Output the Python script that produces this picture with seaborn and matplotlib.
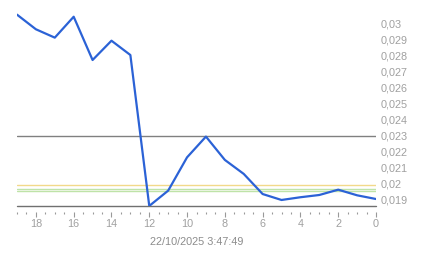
import matplotlib
matplotlib.use("Agg")
import matplotlib.pyplot as plt
import seaborn as sns
import pandas as pd
import numpy as np
from matplotlib.ticker import MultipleLocator, FuncFormatter

# data
x_idx = [19, 18, 17, 16, 15, 14, 13, 12, 11, 10, 9, 8, 7, 6, 5, 4, 3, 2, 1, 0]
values = [0.03052, 0.02961, 0.02909, 0.03039, 0.02770, 0.02890, 0.02801,
          0.01863, 0.01958, 0.02165, 0.02294, 0.02149, 0.02062, 0.01937,
          0.01900, 0.01917, 0.01931, 0.01964, 0.01929, 0.01906]
ref_gray = 0.023
ref_yellow = 0.01993
ref_green = [0.01968, 0.01956]
y_min = 0.018607
y_max = 0.031119
xlabel_text = "22/10/2025 3:47:49"

df = pd.DataFrame({"x": x_idx, "v": values})

sns.set_style("white")
plt.rcParams['font.family'] = ['Liberation Sans', 'DejaVu Sans']

W, H = 443, 258
fig = plt.figure(figsize=(W / 100, H / 100), dpi=100)
left, right, top, bottom = 17, 376, 5, 206.3
ax = fig.add_axes([left / W, 1 - bottom / H, (right - left) / W, (bottom - top) / H])

ax.axhline(ref_gray, color="#808080", lw=1.0, zorder=1)
ax.axhline(ref_yellow, color="#f2d98a", lw=1.0, zorder=1)
for g in ref_green:
    ax.axhline(g, color="#bfe3a8", lw=1.0, zorder=1)
ax.axhline(y_min, color="#707070", lw=1.0, zorder=1, clip_on=False)

sns.lineplot(data=df, x="x", y="v", ax=ax, color="#2b62d6", lw=1.6, zorder=3)

ax.set_xlim(19, 0)
ax.set_ylim(y_min, y_max)

for s in ["top", "left", "right", "bottom"]:
    ax.spines[s].set_visible(False)
ax.spines["bottom"].set_position(("outward", 4.3))

ax.xaxis.set_major_locator(MultipleLocator(2))
ax.xaxis.set_minor_locator(MultipleLocator(0.5))
ax.xaxis.set_major_formatter(FuncFormatter(lambda v, p: f"{int(round(v))}"))
ax.tick_params(axis="x", which="major", direction="out", length=3.5, width=0.8,
               color="#999999", labelcolor="#a0a0a0", labelsize=7.8, pad=1.5, bottom=True)
ax.tick_params(axis="x", which="minor", direction="out", length=1.5, width=0.8,
               color="#999999", bottom=True)

ax.yaxis.tick_right()
ax.set_yticks([0.019 + 0.001 * i for i in range(12)])
ax.yaxis.set_major_formatter(FuncFormatter(lambda v, p: f"{v:.3f}".rstrip("0").replace(".", ",")))
ax.tick_params(axis="y", which="both", length=0, labelcolor="#a0a0a0", labelsize=7.8, pad=3.5, right=True, left=False)
ax.set_ylim(y_min, y_max)

ax.set_xlabel(xlabel_text, color="#8c8c8c", fontsize=7.8, labelpad=5.5)
ax.set_ylabel("")

fig.savefig("out.png", dpi=100)
